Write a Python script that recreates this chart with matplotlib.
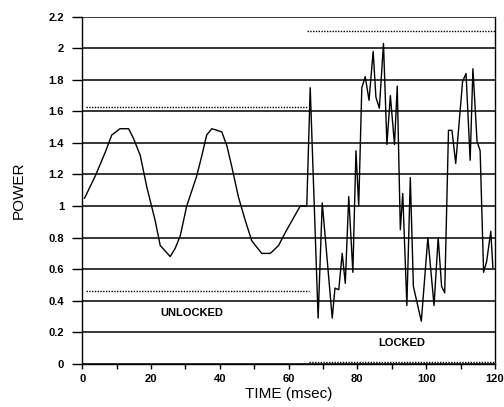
import matplotlib.pyplot as plt

plt.rcParams['font.family'] = ['Liberation Sans', 'DejaVu Sans']

# measured power trace
time = [0.7, 3.8, 6.7, 8.6, 11.0, 13.5, 14.9, 16.9, 18.8, 21.2, 22.7, 25.6, 27.0,
        28.5, 30.4, 33.3, 34.8, 36.2, 37.7, 39.2, 40.6, 42.1, 43.5, 45.4, 47.4,
        49.3, 52.2, 54.7, 57.1, 59.5, 63.4, 65.3,
        66.3, 68.6, 69.8, 72.7, 73.5, 74.6, 75.6, 76.5, 77.5, 78.7, 79.6, 80.4,
        81.3, 82.3, 83.4, 84.6, 85.4, 86.4, 87.6, 88.6, 89.6, 90.8, 91.6, 92.5,
        93.2, 94.4, 95.4, 96.3, 98.6, 100.5, 102.3, 103.5, 104.5, 105.4, 106.5,
        107.5, 108.6, 110.6, 111.6, 112.8, 113.6, 114.8, 115.7, 116.7, 117.6,
        118.8, 119.4]
power = [1.05, 1.19, 1.34, 1.45, 1.49, 1.49, 1.43, 1.32, 1.12, 0.91, 0.75, 0.68, 0.73,
         0.81, 1.0, 1.19, 1.32, 1.45, 1.49, 1.48, 1.47, 1.38, 1.25, 1.06, 0.91,
         0.78, 0.70, 0.70, 0.75, 0.85, 1.0, 1.0,
         1.75, 0.29, 1.02, 0.29, 0.48, 0.47, 0.70, 0.51, 1.06, 0.58, 1.35, 1.0,
         1.75, 1.82, 1.67, 1.98, 1.69, 1.62, 2.03, 1.39, 1.70, 1.39, 1.76, 0.85,
         1.08, 0.37, 1.18, 0.49, 0.27, 0.80, 0.37, 0.80, 0.49, 0.45, 1.48,
         1.48, 1.27, 1.79, 1.84, 1.29, 1.87, 1.41, 1.35, 0.58, 0.65,
         0.84, 0.61]

# dotted bounds: (start, end, level)
unlocked_bounds = [(1, 65.5, 1.63), (1, 66, 0.46)]
locked_bounds = [(65.5, 120, 2.11), (66, 120, 0.01)]

fig = plt.figure(figsize=(5.04, 4.07), dpi=100)
ax = fig.add_axes([0.163, 0.106, 0.819, 0.853])

for y in [0.2 * i for i in range(12)]:
    ax.axhline(y, color='black', lw=1.1, zorder=1)

for x0, x1, lvl in unlocked_bounds + locked_bounds:
    ax.plot([x0, x1], [lvl, lvl], color='black', ls=(0, (1, 1)), lw=1.0)

ax.plot(time, power, color='black', lw=1.0, zorder=3)

ax.text(32, 0.32, 'UNLOCKED', ha='center', va='center', fontsize=8, fontweight='bold')
ax.text(93, 0.13, 'LOCKED', ha='center', va='center', fontsize=8, fontweight='bold')

ax.set_xlim(0, 120)
ax.set_ylim(0, 2.2)
ax.set_xticks(range(0, 121, 20))
ax.set_xticks(range(0, 121, 10), minor=True)
ax.set_yticks([0.2 * i for i in range(12)])
ax.set_yticklabels(['0', '0.2', '0.4', '0.6', '0.8', '1', '1.2', '1.4', '1.6', '1.8', '2', '2.2'])
ax.tick_params(axis='y', direction='out', length=7, width=1, labelsize=8, pad=6)
ax.tick_params(axis='x', which='both', direction='out', length=3.5, width=1, labelsize=8, pad=4)
for lab in ax.get_xticklabels() + ax.get_yticklabels():
    lab.set_fontweight('bold')

ax.spines['top'].set_visible(False)
for s in ['left', 'right', 'bottom']:
    ax.spines[s].set_linewidth(1.0)

ax.set_xlabel('TIME (msec)', fontsize=11, labelpad=2)
ax.set_ylabel('POWER', fontsize=11, labelpad=16)

plt.savefig('out.png', dpi=100)
